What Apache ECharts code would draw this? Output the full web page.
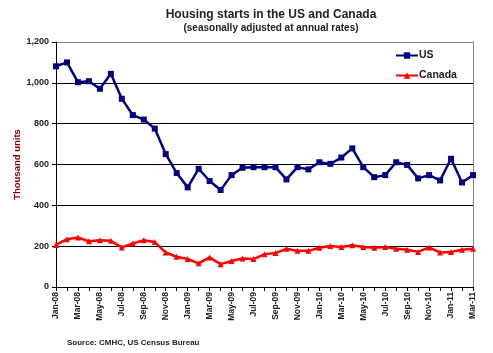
<!DOCTYPE html>
<html>
<head>
<meta charset="utf-8">
<script src="https://cdn.jsdelivr.net/npm/echarts@6/dist/echarts.min.js"></script>
<style>
  html, body { margin: 0; padding: 0; background: #fff; }
  #chart { width: 493px; height: 353px; }
</style>
</head>
<body>
<div id="chart"></div>
<script>
// months, Jan-08 .. Mar-11
var months = ['Jan-08', 'Feb-08', 'Mar-08', 'Apr-08', 'May-08', 'Jun-08', 'Jul-08', 'Aug-08', 'Sep-08', 'Oct-08', 'Nov-08', 'Dec-08',
  'Jan-09', 'Feb-09', 'Mar-09', 'Apr-09', 'May-09', 'Jun-09', 'Jul-09', 'Aug-09', 'Sep-09', 'Oct-09', 'Nov-09', 'Dec-09',
  'Jan-10', 'Feb-10', 'Mar-10', 'Apr-10', 'May-10', 'Jun-10', 'Jul-10', 'Aug-10', 'Sep-10', 'Oct-10', 'Nov-10', 'Dec-10',
  'Jan-11', 'Feb-11', 'Mar-11'];

// thousand units, SAAR
var usStarts = [1081, 1100, 1003, 1008, 971, 1044, 922, 842, 820, 776, 651, 558,
  488, 579, 519, 475, 548, 584, 587, 587, 587, 527, 587, 576,
  611, 603, 634, 679, 587, 538, 548, 611, 598, 532, 548, 522,
  628, 512, 548];
var canadaStarts = [206, 234, 242, 224, 229, 226, 194, 213, 229, 220, 169, 148,
  137, 116, 145, 112, 127, 140, 137, 161, 166, 187, 177, 177,
  192, 201, 196, 205, 196, 192, 196, 187, 182, 172, 194, 169,
  172, 182, 187];

var yTicks = [0, 200, 400, 600, 800, 1000, 1200];

var chart = echarts.init(document.getElementById('chart'), null, { renderer: 'canvas' });

var font = 'Liberation Sans, Arial, sans-serif';

var option = {
  backgroundColor: '#fff',
  animation: false,
  title: [{
    text: 'Housing starts in the US and Canada',
    left: 266,
    top: 4,
    textAlign: 'center',
    textStyle: { fontFamily: font, fontSize: 12, fontWeight: 'bold', color: '#222' }
  }, {
    text: '(seasonally adjusted at annual rates)',
    left: 266,
    top: 18,
    textAlign: 'center',
    textStyle: { fontFamily: font, fontSize: 10, fontWeight: 'bold', color: '#222' }
  }, {
    text: 'Source: CMHC, US Census Bureau',
    left: 62,
    top: 334,
    textStyle: { fontFamily: font, fontSize: 8, fontWeight: 'bold', color: '#222' }
  }],
  legend: {
    orient: 'vertical',
    left: 390,
    top: 45,
    itemWidth: 22,
    itemHeight: 8,
    itemGap: 9,
    textStyle: { fontFamily: font, fontSize: 10.5, fontWeight: 'bold', color: '#222', padding: [0, 0, 0, -4] },
    data: ['US', 'Canada']
  },
  grid: {
    left: 56,
    right: 20,
    top: 42,
    bottom: 66,
    outerBoundsMode: 'none'
  },
  xAxis: {
    type: 'category',
    data: months,
    boundaryGap: false,
    axisLine: { lineStyle: { color: '#000', width: 1 } },
    axisTick: { show: true, interval: 0, length: 4, lineStyle: { color: '#000' } },
    axisLabel: {
      interval: 1,
      rotate: 90,
      margin: 5,
      fontFamily: font,
      fontSize: 8.5,
      fontWeight: 'bold',
      color: '#222'
    },
    splitLine: { show: false }
  },
  yAxis: [{
    type: 'value',
    min: 0,
    max: 1200,
    interval: 200,
    name: 'Thousand units',
    nameLocation: 'middle',
    nameGap: 34,
    nameMoveOverlap: false,
    nameTextStyle: { fontFamily: font, fontSize: 9.5, fontWeight: 'bold', color: '#8b0000' },
    axisLine: { show: true, lineStyle: { color: '#000', width: 1 } },
    axisTick: { show: true, length: 4, lineStyle: { color: '#000' } },
    axisLabel: {
      margin: 7,
      fontFamily: font,
      fontSize: 9,
      fontWeight: 'bold',
      color: '#222',
      formatter: function (v) { return yTicks.indexOf(v) >= 0 ? v.toLocaleString('en-US') : ''; }
    },
    splitLine: {
      show: true,
      lineStyle: { color: ['#000', '#000', '#000', '#000', '#000', '#000', '#888'], width: 1 }
    }
  }, {
    // right border of plot area
    type: 'value',
    position: 'right',
    min: 0,
    max: 1200,
    interval: 200,
    axisLine: { show: true, lineStyle: { color: '#888', width: 1 } },
    axisTick: { show: false },
    axisLabel: { show: false },
    splitLine: { show: false }
  }],
  series: [{
    name: 'US',
    type: 'line',
    data: usStarts,
    color: '#000080',
    symbol: 'rect',
    symbolSize: 6,
    lineStyle: { width: 2.5, color: '#000080' },
    itemStyle: { color: '#000080' },
    z: 3
  }, {
    name: 'Canada',
    type: 'line',
    data: canadaStarts,
    color: '#ff0000',
    symbol: 'triangle',
    symbolSize: 6,
    lineStyle: { width: 2.5, color: '#ff0000' },
    itemStyle: { color: '#ff0000' },
    z: 2
  }]
};

chart.setOption(option);
</script>
</body>
</html>
